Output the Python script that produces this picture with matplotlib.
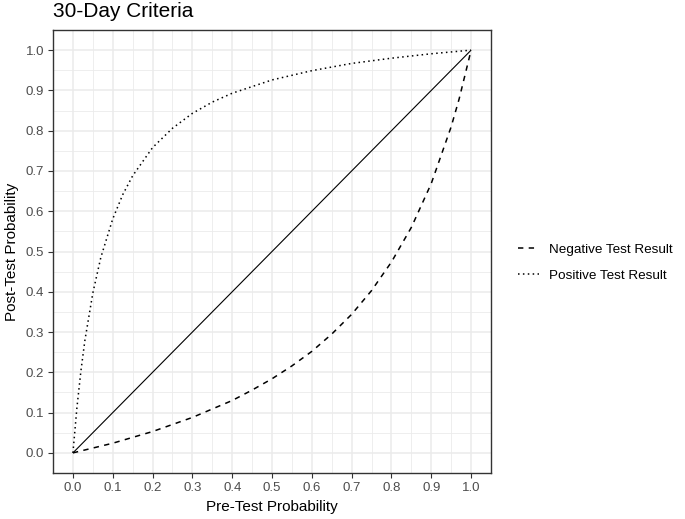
import matplotlib.pyplot as plt
import numpy as np

plt.rcParams['font.family'] = ['Liberation Sans', 'DejaVu Sans']

# values
pos_x = [0.0, 0.01, 0.02, 0.03, 0.05, 0.07, 0.1, 0.125, 0.15, 0.2, 0.25, 0.3,
         0.35, 0.4, 0.5, 0.6, 0.7, 0.8, 0.9, 1.0]
pos_y = [0.0, 0.112, 0.203, 0.279, 0.397, 0.485, 0.581, 0.641, 0.688, 0.758, 0.806, 0.843,
         0.871, 0.893, 0.926, 0.949, 0.967, 0.980, 0.991, 1.0]
neg_x = [0.0, 0.05, 0.1, 0.2, 0.3, 0.4, 0.45, 0.5, 0.55, 0.6, 0.65, 0.7, 0.75, 0.8,
         0.85, 0.9, 0.95, 0.97, 1.0]
neg_y = [0.0, 0.012, 0.024, 0.053, 0.088, 0.130, 0.156, 0.184, 0.216, 0.252, 0.295, 0.344,
         0.403, 0.474, 0.560, 0.669, 0.810, 0.879, 1.0]
ref_x = [0.0, 1.0]
ref_y = [0.0, 1.0]
ticks = np.round(np.arange(0, 1.01, 0.1), 1)

fig = plt.figure(figsize=(6.85, 5.19), dpi=100)
ax = fig.add_axes([0.0774, 0.0886, 0.6394, 0.8536])

ax.plot(ref_x, ref_y, color='black', lw=0.8, solid_capstyle='butt')
ax.plot(neg_x, neg_y, color='black', lw=1.1, linestyle=(0, (3.5, 3.5)), label='Negative Test Result')
ax.plot(pos_x, pos_y, color='black', lw=1.1, linestyle=(0, (1, 2.2)), label='Positive Test Result')

ax.set_xlim(-0.05, 1.05)
ax.set_ylim(-0.05, 1.05)
ax.set_xticks(ticks)
ax.set_yticks(ticks)
ax.set_xticklabels([f'{t:.1f}' for t in ticks])
ax.set_yticklabels([f'{t:.1f}' for t in ticks])
ax.set_xticks(np.arange(0.05, 1.0, 0.1), minor=True)
ax.set_yticks(np.arange(0.05, 1.0, 0.1), minor=True)
ax.grid(which='major', color='#EBEBEB', lw=1.1)
ax.grid(which='minor', color='#EBEBEB', lw=0.6)
ax.set_axisbelow(True)
ax.tick_params(which='major', length=3.5, width=0.8, color='#333333', labelcolor='#4D4D4D',
               labelsize=9.5, pad=3)
ax.tick_params(which='minor', length=0)
for s in ax.spines.values():
    s.set_color('#333333')
    s.set_linewidth(1.0)

ax.set_xlabel('Pre-Test Probability', fontsize=11, labelpad=4)
ax.set_ylabel('Post-Test Probability', fontsize=11, labelpad=5)
fig.text(0.0774, 0.997, '30-Day Criteria', fontsize=15, va='top', ha='left')

ax.legend(loc='center left', bbox_to_anchor=(1.035, 0.475), frameon=False, fontsize=9.7,
          handlelength=1.5, handletextpad=0.8, labelspacing=1.05)

plt.savefig('out.png', dpi=100)
